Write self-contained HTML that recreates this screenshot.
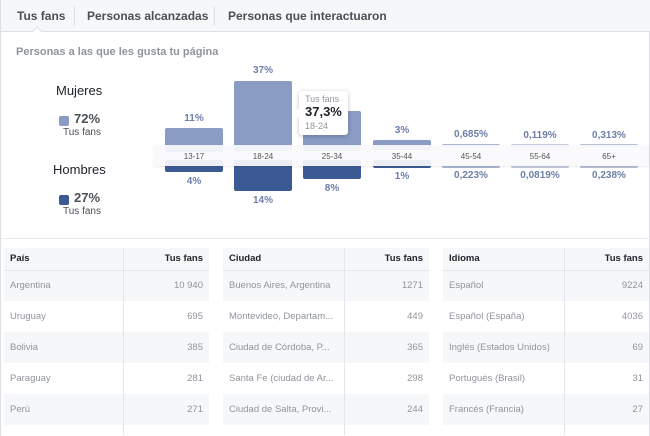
<!DOCTYPE html><html><head><meta charset="utf-8"><style>
*{margin:0;padding:0;box-sizing:border-box}
body{width:650px;height:436px;overflow:hidden;background:#fff;font-family:"Liberation Sans",Arial,sans-serif;position:relative;border-left:1px solid #dddfe2;border-right:1px solid #dddfe2}
.a{position:absolute}
.tabs{left:0;top:0;width:650px;height:32px;background:#f6f7f9;border-bottom:1px solid #dddfe2}
.tab{top:9px;font-size:12px;font-weight:bold;color:#4b4f56}
.sep{top:6px;width:1px;height:20px;background:#dddfe2}
.f{background:#8a9bc4;border-radius:2px}
.m{background:#3b5a94;border-radius:2px}
.lbl{font-size:10px;font-weight:bold;color:#6d7fa8;text-align:center;width:70px}
.strip{left:153px;top:145px;width:495px;height:21px;background:rgba(250,250,252,0.93);box-shadow:0 1px 2px rgba(0,0,0,.08)}
.ax{top:152px;font-size:8px;color:#555;text-align:center;width:58px}
table{position:absolute;top:248px;border-collapse:collapse;font-size:9.5px}
td{height:31px;padding:0 6px;color:#90949c;border-right:1px solid #e5e6e9}
th{height:22px;padding:0 6px;font-size:9.5px;color:#1d2129;text-align:left;background:#f6f7f9;border-bottom:1px solid #e5e6e9;border-right:1px solid #e5e6e9}
th.r,td.r{text-align:right;border-right:none}
tr:nth-child(even) td{background:#f6f7f9}
</style></head><body>
<div class="a tabs"></div>
<div class="a tab" style="left:16px">Tus fans</div>
<div class="a sep" style="left:73px"></div>
<div class="a tab" style="left:86px">Personas alcanzadas</div>
<div class="a sep" style="left:213px"></div>
<div class="a tab" style="left:227px">Personas que interactuaron</div>
<div class="a" style="left:32px;top:28px;width:8px;height:8px;background:#fff;border-left:1px solid #dddfe2;border-top:1px solid #dddfe2;transform:rotate(45deg)"></div>
<div class="a" style="left:15px;top:46px;font-size:11px;font-weight:bold;color:#90949c">Personas a las que les gusta tu página</div>

<div class="a" style="left:55px;top:83px;font-size:13px;color:#1d2129">Mujeres</div>
<div class="a f" style="left:58px;top:116px;width:10px;height:10px"></div>
<div class="a" style="left:73px;top:111px;font-size:13px;font-weight:bold;color:#4b4f56">72%</div>
<div class="a" style="left:62px;top:127px;font-size:10px;color:#4b4f56">Tus fans</div>
<div class="a" style="left:52px;top:162px;font-size:13px;color:#1d2129">Hombres</div>
<div class="a m" style="left:58px;top:195px;width:10px;height:10px"></div>
<div class="a" style="left:73px;top:190px;font-size:13px;font-weight:bold;color:#4b4f56">27%</div>
<div class="a" style="left:62px;top:206px;font-size:10px;color:#4b4f56">Tus fans</div>

<div class="a f" style="left:164px;top:128px;width:58px;height:24px"></div>
<div class="a m" style="left:164px;top:160px;width:58px;height:12px"></div>
<div class="a f" style="left:233px;top:81px;width:58px;height:70px"></div>
<div class="a m" style="left:233px;top:160px;width:58px;height:31px"></div>
<div class="a f" style="left:302px;top:111px;width:58px;height:40px"></div>
<div class="a m" style="left:302px;top:160px;width:58px;height:19px"></div>
<div class="a f" style="left:372px;top:140px;width:58px;height:10px"></div>
<div class="a m" style="left:372px;top:160px;width:58px;height:8px"></div>
<div class="a f" style="left:441px;top:144px;width:58px;height:3px;background:#aab5d0"></div>
<div class="a f" style="left:510px;top:144px;width:58px;height:3px;background:#c3cadb"></div>
<div class="a f" style="left:579px;top:144px;width:58px;height:3px;background:#b8c1d6"></div>
<div class="a m" style="left:441px;top:165px;width:58px;height:3px;background:#aab5d0"></div>
<div class="a m" style="left:510px;top:165px;width:58px;height:3px;background:#c3cadb"></div>
<div class="a m" style="left:579px;top:165px;width:58px;height:3px;background:#b8c1d6"></div>

<div class="a strip"></div>
<div class="a ax" style="left:164px">13-17</div>
<div class="a ax" style="left:233px">18-24</div>
<div class="a ax" style="left:302px">25-34</div>
<div class="a ax" style="left:372px">35-44</div>
<div class="a ax" style="left:441px">45-54</div>
<div class="a ax" style="left:510px">55-64</div>
<div class="a ax" style="left:579px">65+</div>

<div class="a lbl" style="left:158px;top:113px">11%</div>
<div class="a lbl" style="left:227px;top:65px">37%</div>
<div class="a lbl" style="left:366px;top:125px">3%</div>
<div class="a lbl" style="left:435px;top:129px">0,685%</div>
<div class="a lbl" style="left:504px;top:130px">0,119%</div>
<div class="a lbl" style="left:573px;top:130px">0,313%</div>
<div class="a lbl" style="left:158px;top:176px">4%</div>
<div class="a lbl" style="left:227px;top:195px">14%</div>
<div class="a lbl" style="left:296px;top:183px">8%</div>
<div class="a lbl" style="left:366px;top:171px">1%</div>
<div class="a lbl" style="left:435px;top:170px">0,223%</div>
<div class="a lbl" style="left:504px;top:170px">0,0819%</div>
<div class="a lbl" style="left:573px;top:170px">0,238%</div>

<div class="a" style="left:298px;top:91px;width:49px;height:44px;background:#fff;border-radius:3px;box-shadow:0 1px 4px rgba(0,0,0,.25)"></div>
<div class="a" style="left:294px;top:110px;width:7px;height:7px;background:#fff;transform:rotate(45deg)"></div>
<div class="a" style="left:304px;top:94px;font-size:9px;color:#90949c">Tus fans</div>
<div class="a" style="left:304px;top:104px;font-size:13px;font-weight:bold;color:#1d2129">37,3%</div>
<div class="a" style="left:304px;top:121px;font-size:9px;color:#90949c">18-24</div>

<div class="a" style="left:0;top:238px;width:650px;height:1px;background:#e9ebee"></div>

<table style="left:3px;width:205px"><tr><th style="width:119px">País</th><th class="r">Tus fans</th></tr>
<tr><td>Argentina</td><td class="r">10 940</td></tr><tr><td>Uruguay</td><td class="r">695</td></tr><tr><td>Bolivia</td><td class="r">385</td></tr><tr><td>Paraguay</td><td class="r">281</td></tr><tr><td>Perú</td><td class="r">271</td></tr><tr><td style="height:10px"></td><td class="r" style="height:10px"></td></tr></table>
<table style="left:222px;width:206px"><tr><th style="width:121px">Ciudad</th><th class="r">Tus fans</th></tr>
<tr><td>Buenos Aires, Argentina</td><td class="r">1271</td></tr><tr><td>Montevideo, Departam...</td><td class="r">449</td></tr><tr><td>Ciudad de Córdoba, P...</td><td class="r">365</td></tr><tr><td>Santa Fe (ciudad de Ar...</td><td class="r">298</td></tr><tr><td>Ciudad de Salta, Provi...</td><td class="r">244</td></tr><tr><td style="height:10px"></td><td class="r" style="height:10px"></td></tr></table>
<table style="left:442px;width:206px"><tr><th style="width:121px">Idioma</th><th class="r">Tus fans</th></tr>
<tr><td>Español</td><td class="r">9224</td></tr><tr><td>Español (España)</td><td class="r">4036</td></tr><tr><td>Inglés (Estados Unidos)</td><td class="r">69</td></tr><tr><td>Portugués (Brasil)</td><td class="r">31</td></tr><tr><td>Francés (Francia)</td><td class="r">27</td></tr><tr><td style="height:10px"></td><td class="r" style="height:10px"></td></tr></table>
</body></html>
